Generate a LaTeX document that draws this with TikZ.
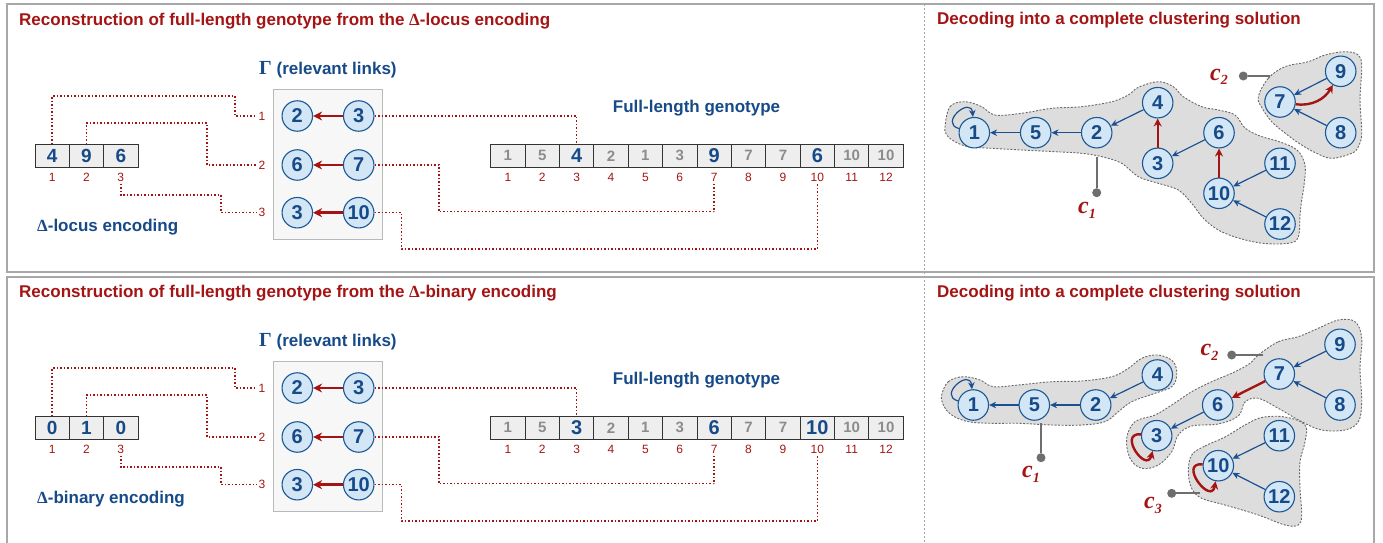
\documentclass[tikz,border=0pt]{standalone}
\usepackage{fontspec}
\setmainfont{Liberation Sans}
\newfontfamily\serifface{Liberation Serif}
\usetikzlibrary{arrows.meta}

\definecolor{dred}{RGB}{165,20,20}
\definecolor{tblue}{RGB}{22,74,136}
\definecolor{nfill}{RGB}{210,230,245}
\definecolor{nborder}{RGB}{28,88,150}
\definecolor{eblue}{RGB}{25,80,145}
\definecolor{blobfill}{RGB}{221,221,221}
\definecolor{blobline}{RGB}{105,105,105}
\definecolor{framegray}{RGB}{168,168,168}
\definecolor{cellfill}{RGB}{238,238,238}
\definecolor{dimnum}{RGB}{140,140,140}
\definecolor{cgray}{RGB}{110,110,110}

\newcommand\fs[1]{\fontsize{#1}{#1}\selectfont}
% value printed in a genotype cell: 1 = highlighted locus, 0 = ordinary
\newcommand\genval[2]{\ifnum#2=1 \textcolor{tblue}{\fs{20}\bfseries #1}\else\textcolor{dimnum}{\fs{15}\bfseries #1}\fi}
% cluster label c_k
\newcommand\clust[1]{{\serifface\bfseries\itshape\fs{24}c}{\serifface\bfseries\itshape\fs{14}\raisebox{-5pt}{#1}}}

\tikzset{
  panelframe/.style={draw=framegray, line width=2pt},
  divider/.style={draw=gray!70, line width=0.8pt, dash pattern=on 2pt off 2pt},
  title/.style={anchor=west, text=dred, font=\fs{17}\bfseries, inner sep=0},
  label/.style={text=tblue, font=\fs{17}\bfseries, inner sep=0},
  enccell/.style={draw=black!80, fill=cellfill, line width=0.9pt, minimum width=34.33pt, minimum height=22.5pt, inner sep=0, text=tblue, font=\fs{19}\bfseries},
  gencell/.style={draw=black!80, fill=cellfill, line width=0.9pt, minimum width=34.38pt, minimum height=23pt, inner sep=0},
  idx/.style={text=dred, font=\fs{12}, inner sep=1.5pt},
  gnode/.style={circle, draw=nborder, fill=nfill, line width=1.1pt, minimum size=30.5pt, inner sep=0, text=tblue, font=\fs{20}\bfseries},
  link/.style={draw=dred, line width=1.5pt, dash pattern=on 1.5pt off 2pt},
  gammabox/.style={draw=gray!55, fill=black!3, line width=1.2pt, minimum width=109.4pt, minimum height=150pt, inner sep=0},
  relarrow/.style={draw=dred, line width=2.8pt, -{Stealth[length=9pt,width=9pt]}},
  redarr/.style={draw=dred, line width=2.4pt, -{Stealth[length=8pt,width=8pt]}},
  bluearr/.style={draw=eblue, line width=1.2pt, -{Stealth[length=7pt,width=6.5pt]}},
  blob/.style={fill=blobfill, draw=blobline, line width=0.9pt, dash pattern=on 2pt off 1.5pt},
  cline/.style={draw=cgray, line width=2pt},
  cdot/.style={circle, fill=cgray, minimum size=9pt, inner sep=0},
  clabel/.style={text=dred, inner sep=0, anchor=base west},
}

% left half of a panel: encoding, relevant links and full-length genotype
% #1 tag, #2 vertical shift, #3 encoding values, #4 genotype value/highlight list, #5 encoding name
\newcommand\reconpanel[5]{%
 \begin{scope}[yshift=#2]
  \node[title] (rt#1) at (19,-21) {Reconstruction of full-length genotype from the {\serifface Δ}-#5 encoding};
  \node[label, anchor=west] (gt#1) at (259,-70) {{\serifface\fs{20}Γ} (relevant links)};
  \node[label] (fl#1) at (696.5,-108) {Full-length genotype};
  \node[label, anchor=west] (en#1) at (37,-227) {{\serifface Δ}-#5 encoding};
  \foreach \v [count=\i] in {#3} {
    \node[enccell] (e#1\i) at ({35+34.33*(\i-0.5)},-155.8) {\v};
    \node[idx] (ei#1\i) at ({35+34.33*(\i-0.5)},-177.7) {\i};
  }
  \node[gammabox] (gb#1) at (328,-164.3) {};
  \foreach \l/\r/\y [count=\i] in {2/3/116,6/7/165,3/10/212.7} {
    \node[gnode] (gl#1\i) at (297.3,-\y) {\l};
    \node[gnode] (gr#1\i) at (358.7,-\y) {\r};
    \node[idx] (la#1\i) at (262,-\y) {\i};
    \draw[relarrow] (gr#1\i) -- (gl#1\i);
  }
  \foreach \v/\h [count=\i] in {#4} {
    \node[gencell] (g#1\i) at ({490.7+34.38*(\i-0.5)},-155.8) {\genval{\v}{\h}};
    \node[idx] (gi#1\i) at ({490.7+34.38*(\i-0.5)},-177.7) {\i};
  }
  \draw[link] (e#11.north) |- (235,-96) |- (la#11.west);
  \draw[link] (e#12.north) |- (207,-123) |- (la#12.west);
  \draw[link] (ei#13.south) |- (221,-195) |- (la#13.west);
  \draw[link] (gr#11.east) -| (g#13.north);
  \draw[link] (gr#12.east) -| (439,-211.7) -| (gi#17.south);
  \draw[link] (gr#13.east) -| (401.7,-249) -| (gi#110.south);
 \end{scope}}

\begin{document}
\begin{tikzpicture}[x=1pt,y=1pt]
\useasboundingbox (0,0) rectangle (1383,-543);
\begin{scope}
  \clip (0,0) rectangle (1383,-543);
  \draw[panelframe] (6.5,-4) rectangle (1374,-272);
  \draw[panelframe] (6.5,-276.5) rectangle (1374,-560);
\end{scope}
\draw[divider] (924.5,-4) -- (924.5,-543);

\reconpanel{a}{0pt}{4,9,6}{1/0,5/0,4/1,2/0,1/0,3/0,9/1,7/0,7/0,6/1,10/0,10/0}{locus}
\reconpanel{b}{-272pt}{0,1,0}{1/0,5/0,3/1,2/0,1/0,3/0,6/1,7/0,7/0,10/1,10/0,10/0}{binary}

% ---------- clustering of the first genotype ----------
\node[title] (dta) at (937,-20) {Decoding into a complete clustering solution};
\filldraw[blob] plot[smooth cycle, tension=0.6] coordinates {
 (945,-126.7) (950,-106.7) (965,-101.7) (981.7,-106.7) (995,-115) (1021.7,-113.3)
 (1051.7,-108.3) (1081.7,-106.7) (1111.7,-101.7) (1128.3,-95) (1138.3,-87.3) (1158.3,-81.7)
 (1173.3,-86.7) (1183.3,-96.7) (1201.7,-106.7) (1218.3,-110) (1235,-115) (1245,-128)
 (1260,-136) (1280,-142) (1297,-150) (1305,-165) (1304,-185) (1301.7,-200) (1300,-215)
 (1298.3,-236.7) (1288.3,-243.3) (1258.3,-242.7) (1225,-233.3) (1205,-220) (1191.7,-203.3)
 (1178.3,-190) (1158.3,-183.3) (1138.3,-176.7) (1121.7,-163.3) (1101.7,-156.7) (1081.7,-153.3)
 (1055,-151.7) (1021.7,-150) (991.7,-148.3) (968.3,-146.7) (955,-141.7) (946.7,-135)};
\filldraw[blob] plot[smooth cycle, tension=0.6] coordinates {
 (1258.3,-96.7) (1268.3,-78.3) (1285,-66.7) (1308.3,-61.7) (1325,-55) (1345,-51.7)
 (1358.3,-55) (1361.7,-66.7) (1360,-100) (1361.7,-133.3) (1358.3,-146.7) (1351.7,-153.3)
 (1331.7,-158.3) (1316,-153) (1300,-144) (1285,-133) (1272,-122) (1262,-108)};

\coordinate (ca1) at (1096.7,-157);
\node[cdot] (cda1) at (1096.7,-192.7) {};
\draw[cline] (ca1) -- (cda1);
\node[clabel] (cla1) at (1078,-213.3) {\clust{1}};
\coordinate (ca2) at (1270,-76);
\node[cdot] (cda2) at (1243.3,-76) {};
\draw[cline] (ca2) -- (cda2);
\node[clabel] (cla2) at (1210,-80) {\clust{2}};

\node[gnode] (t1) at (974.3,-132.7) {1};
\node[gnode] (t5) at (1035.7,-132.7) {5};
\node[gnode] (t2) at (1096.7,-132.7) {2};
\node[gnode] (t4) at (1157.7,-102.7) {4};
\node[gnode] (t3) at (1157.7,-163.3) {3};
\node[gnode] (t6) at (1219,-132.7) {6};
\node[gnode] (t11) at (1280,-163.3) {11};
\node[gnode] (t10) at (1219,-193.3) {10};
\node[gnode] (t12) at (1280,-224) {12};
\node[gnode] (t7) at (1280,-102) {7};
\node[gnode] (t9) at (1340.7,-71.3) {9};
\node[gnode] (t8) at (1340.7,-132.7) {8};

\draw[bluearr] (t1) to[out=165,in=95,looseness=3] (t1);
\draw[bluearr] (t5) -- (t1);
\draw[bluearr] (t2) -- (t5);
\draw[bluearr] (t4) -- (t2);
\draw[bluearr] (t6) -- (t3);
\draw[bluearr] (t11) -- (t10);
\draw[bluearr] (t12) -- (t10);
\draw[bluearr] (t9) -- (t7);
\draw[bluearr] (t8) -- (t7);
\draw[redarr] (t3) -- (t4);
\draw[redarr] (t10) -- (t6);
\draw[redarr] (t7) to[out=-8,in=240] (t9);

% ---------- clustering of the second genotype ----------
\node[title] (dtb) at (937,-293) {Decoding into a complete clustering solution};
\filldraw[blob] plot[smooth cycle, tension=0.6] coordinates {
 (941.7,-395) (948.3,-381.7) (963.3,-376.7) (980,-380) (993.3,-386.7) (1018.3,-385)
 (1051.7,-381.7) (1081.7,-381) (1111.7,-376.7) (1128.3,-368.3) (1141.7,-358.3) (1158.3,-355)
 (1173.3,-361.7) (1176.7,-375) (1171.7,-386.7) (1155,-393.3) (1131.7,-401.7) (1118.3,-411.7)
 (1105,-421.7) (1081.7,-425) (1051.7,-425) (1018.3,-423.3) (991.7,-423.3) (968.3,-421.7)
 (951.7,-415) (943.3,-405)};
\filldraw[blob] plot[smooth cycle, tension=0.6] coordinates {
 (1258.3,-355) (1278.3,-341.7) (1298.3,-336.7) (1318.3,-328.3) (1338.3,-320) (1355,-321.7)
 (1361.7,-338.3) (1360,-368.3) (1361.7,-401.7) (1358.3,-421.7) (1345,-430) (1321.7,-430)
 (1301.7,-421.7) (1278.3,-408.3) (1258.3,-398.3) (1245,-402) (1238.3,-416) (1218.3,-424)
 (1191.7,-426) (1178.3,-435) (1171.7,-451.7) (1158.3,-465) (1141.7,-468.3) (1130,-458.3)
 (1126.7,-438.3) (1135,-421.7) (1155,-415) (1171.7,-405) (1191.7,-391.7) (1211.7,-381.7)
 (1235,-371.7) (1250,-363.3)};
\filldraw[blob] plot[smooth cycle, tension=0.6] coordinates {
 (1191.7,-455) (1205,-446) (1225,-437) (1245,-425) (1261.7,-417.5) (1285,-417)
 (1305,-425) (1305,-441.7) (1300,-461.7) (1300,-488.3) (1301.7,-515) (1298.3,-525)
 (1285,-525) (1258.3,-515) (1225,-505) (1201.7,-498.3) (1191.7,-488.3) (1188.3,-471.7)};

\coordinate (cb1) at (1041,-423);
\node[cdot] (cdb1) at (1041,-457.7) {};
\draw[cline] (cb1) -- (cdb1);
\node[clabel] (clb1) at (1022,-477.7) {\clust{1}};
\coordinate (cb2) at (1263,-355);
\node[cdot] (cdb2) at (1231.7,-355) {};
\draw[cline] (cb2) -- (cdb2);
\node[clabel] (clb2) at (1200.5,-355) {\clust{2}};
\coordinate (cb3) at (1200,-493.3);
\node[cdot] (cdb3) at (1171.7,-493.3) {};
\draw[cline] (cb3) -- (cdb3);
\node[clabel] (clb3) at (1144,-508.3) {\clust{3}};

\node[gnode] (b1) at (973.3,-405) {1};
\node[gnode] (b5) at (1034.3,-405) {5};
\node[gnode] (b2) at (1095.7,-405) {2};
\node[gnode] (b4) at (1157.3,-375) {4};
\node[gnode] (b7) at (1279.3,-374) {7};
\node[gnode] (b9) at (1340,-344.3) {9};
\node[gnode] (b8) at (1340,-405) {8};
\node[gnode] (b6) at (1217.7,-405) {6};
\node[gnode] (b3) at (1156.7,-435.7) {3};
\node[gnode] (b11) at (1279.3,-435.7) {11};
\node[gnode] (b10) at (1218.3,-465.7) {10};
\node[gnode] (b12) at (1279.3,-496.7) {12};

\draw[bluearr] (b1) to[out=165,in=95,looseness=3] (b1);
\draw[bluearr] (b5) -- (b1);
\draw[bluearr] (b2) -- (b5);
\draw[bluearr] (b4) -- (b2);
\draw[bluearr] (b6) -- (b3);
\draw[bluearr] (b9) -- (b7);
\draw[bluearr] (b8) -- (b7);
\draw[bluearr] (b11) -- (b10);
\draw[bluearr] (b12) -- (b10);
\draw[redarr] (b7) -- (b6);
\draw[redarr] (b3) to[out=175,in=255,looseness=3] (b3);
\draw[redarr] (b10) to[out=175,in=260,looseness=3] (b10);
\end{tikzpicture}
\end{document}
